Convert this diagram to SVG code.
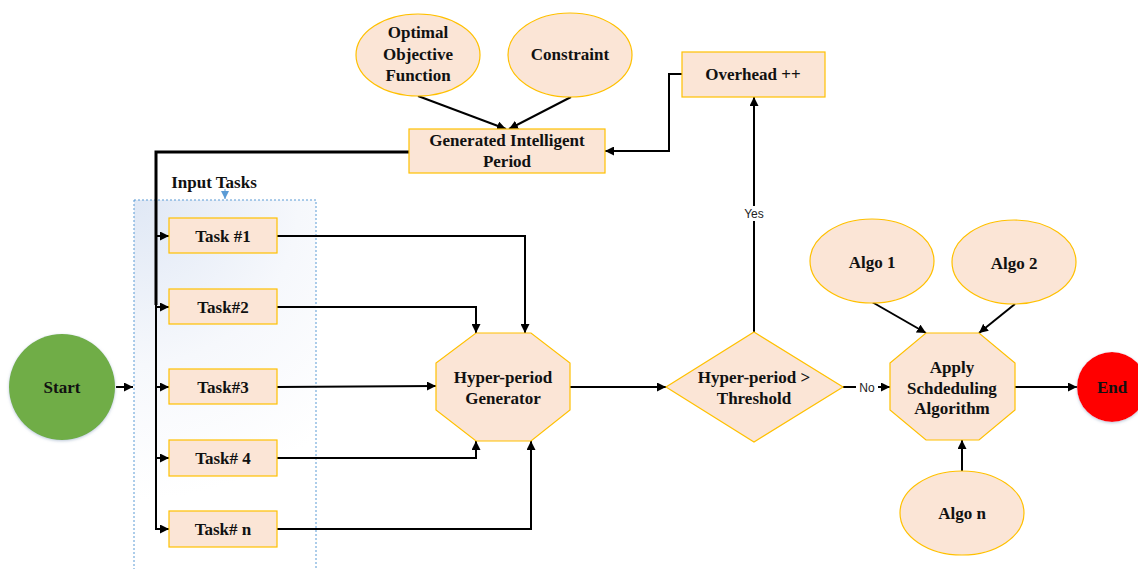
<svg xmlns="http://www.w3.org/2000/svg" width="1138" height="569" viewBox="0 0 1138 569">
<defs>
<marker id="ah" viewBox="0 0 10 10" refX="10" refY="5" markerWidth="9" markerHeight="9" markerUnits="userSpaceOnUse" orient="auto">
<path d="M0,0 L10,5 L0,10 z" fill="#000"/>
</marker>
<marker id="ahb" viewBox="0 0 10 10" refX="10" refY="5" markerWidth="8" markerHeight="8" markerUnits="userSpaceOnUse" orient="auto">
<path d="M0,0 L10,5 L0,10 z" fill="#5B9BD5"/>
</marker>
<radialGradient id="grp" gradientUnits="userSpaceOnUse" cx="134" cy="200" r="300">
<stop offset="0" stop-color="#E0E8F5"/>
<stop offset="0.55" stop-color="#F6F8FC"/>
<stop offset="1" stop-color="#FFFFFF"/>
</radialGradient>
<filter id="sh" x="-20%" y="-20%" width="140%" height="140%">
<feDropShadow dx="0" dy="1" stdDeviation="1.5" flood-color="#8FA3C0" flood-opacity="0.6"/>
</filter>
</defs>
<style>
.n{fill:#FBE5D6;stroke:#FFC000;stroke-width:1.2}
.t{font-family:"Liberation Serif","Times New Roman",serif;font-weight:bold;font-size:17px;fill:#111;text-anchor:middle}
.s{font-family:"Liberation Sans",Arial,sans-serif;font-size:12px;fill:#222;text-anchor:middle}
.c{fill:none;stroke:#000;stroke-width:2}
</style>

<g id="input-tasks-group">
<rect x="134" y="200" width="182" height="375" fill="url(#grp)" stroke="#5B9BD5" stroke-width="1" stroke-dasharray="2,2"/>
<text class="t" x="214" y="188">Input Tasks</text>
<line x1="225" y1="189" x2="225" y2="199" stroke="#5B9BD5" stroke-width="1" marker-end="url(#ahb)"/>
</g>

<g id="connectors">
<line class="c" x1="116" y1="387" x2="133" y2="387" marker-end="url(#ah)"/>
<path d="M409,152 L156,152 L156,305" fill="none" stroke="#000" stroke-width="3"/>
<path class="c" d="M156,300 L156,529"/>
<line class="c" x1="156" y1="236" x2="169" y2="236" marker-end="url(#ah)"/>
<line class="c" x1="156" y1="307" x2="169" y2="307" marker-end="url(#ah)"/>
<line class="c" x1="156" y1="387" x2="169" y2="387" marker-end="url(#ah)"/>
<line class="c" x1="156" y1="458" x2="169" y2="458" marker-end="url(#ah)"/>
<path class="c" d="M156,528 L156,529 L169,529" marker-end="url(#ah)"/>
<path class="c" d="M277,236 L525,236 L525,333" marker-end="url(#ah)"/>
<path class="c" d="M277,307 L476,307 L476,333" marker-end="url(#ah)"/>
<line class="c" x1="277" y1="387" x2="436" y2="386" marker-end="url(#ah)"/>
<path class="c" d="M277,458 L476,458 L476,441" marker-end="url(#ah)"/>
<path class="c" d="M277,529 L531,529 L531,441" marker-end="url(#ah)"/>
<line class="c" x1="418" y1="96" x2="506" y2="129" marker-end="url(#ah)"/>
<line class="c" x1="571" y1="97" x2="509" y2="129" marker-end="url(#ah)"/>
<path class="c" d="M682,74 L669,74 L669,151 L605,151" marker-end="url(#ah)"/>
<line class="c" x1="570" y1="387" x2="666" y2="387" marker-end="url(#ah)"/>
<line class="c" x1="754" y1="332" x2="754" y2="97" marker-end="url(#ah)"/>
<rect x="742" y="206" width="24" height="15" fill="#fff"/>
<text class="s" x="754" y="218">Yes</text>
<line class="c" x1="843" y1="387" x2="890" y2="387" marker-end="url(#ah)"/>
<rect x="856" y="380" width="22" height="15" fill="#fff"/>
<text class="s" x="867" y="392">No</text>
<line class="c" x1="872" y1="302" x2="926" y2="333" marker-end="url(#ah)"/>
<line class="c" x1="1015" y1="304" x2="979" y2="333" marker-end="url(#ah)"/>
<line class="c" x1="962" y1="472" x2="962" y2="440" marker-end="url(#ah)"/>
<line class="c" x1="1015" y1="387" x2="1077" y2="387" marker-end="url(#ah)"/>
</g>

<g id="start">
<circle cx="62" cy="387" r="53" fill="#70AD47" filter="url(#sh)"/>
<text class="t" x="62" y="393">Start</text>
</g>

<g id="task1"><rect class="n" x="169" y="218" width="108" height="35"/><text class="t" x="223" y="242">Task #1</text></g>
<g id="task2"><rect class="n" x="169" y="289" width="108" height="35"/><text class="t" x="223" y="313">Task#2</text></g>
<g id="task3"><rect class="n" x="169" y="369" width="108" height="35"/><text class="t" x="223" y="393">Task#3</text></g>
<g id="task4"><rect class="n" x="169" y="440" width="108" height="36"/><text class="t" x="223" y="464">Task# 4</text></g>
<g id="taskn"><rect class="n" x="169" y="511" width="108" height="36"/><text class="t" x="223" y="535">Task# n</text></g>

<g id="hyper-period-generator">
<polygon class="n" points="476,333 531,333 570,363 570,410 531,441 476,441 436,410 436,363"/>
<text class="t" x="503" y="383">Hyper-period</text>
<text class="t" x="503" y="404">Generator</text>
</g>

<g id="optimal-objective">
<ellipse class="n" cx="418" cy="55" rx="62" ry="41"/>
<text class="t" x="418" y="38">Optimal</text>
<text class="t" x="418" y="60">Objective</text>
<text class="t" x="418" y="81">Function</text>
</g>

<g id="constraint">
<ellipse class="n" cx="570" cy="55" rx="62" ry="42"/>
<text class="t" x="570" y="60">Constraint</text>
</g>

<g id="generated-period">
<rect class="n" x="409" y="129" width="196" height="44"/>
<text class="t" x="507" y="146">Generated Intelligent</text>
<text class="t" x="507" y="167">Period</text>
</g>

<g id="overhead">
<rect class="n" x="682" y="52" width="143" height="45"/>
<text class="t" x="753" y="80">Overhead ++</text>
</g>

<g id="threshold">
<polygon class="n" points="754,332 843,387 754,442 666,387"/>
<text class="t" x="754" y="383">Hyper-period &gt;</text>
<text class="t" x="754" y="404">Threshold</text>
</g>

<g id="apply-scheduling">
<polygon class="n" points="926,333 979,333 1015,363 1015,410 979,440 926,440 890,410 890,363"/>
<text class="t" x="952" y="373">Apply</text>
<text class="t" x="952" y="394">Schdeduling</text>
<text class="t" x="952" y="414">Algorithm</text>
</g>

<g id="algo1"><ellipse class="n" cx="872" cy="261" rx="62" ry="42"/><text class="t" x="872" y="268">Algo 1</text></g>
<g id="algo2"><ellipse class="n" cx="1014" cy="262" rx="62" ry="42"/><text class="t" x="1014" y="269">Algo 2</text></g>
<g id="algon"><ellipse class="n" cx="962" cy="513" rx="62" ry="42"/><text class="t" x="962" y="519">Algo n</text></g>

<g id="end">
<circle cx="1112" cy="387" r="35" fill="#FF0000" filter="url(#sh)"/>
<text class="t" x="1112" y="393">End</text>
</g>
</svg>
